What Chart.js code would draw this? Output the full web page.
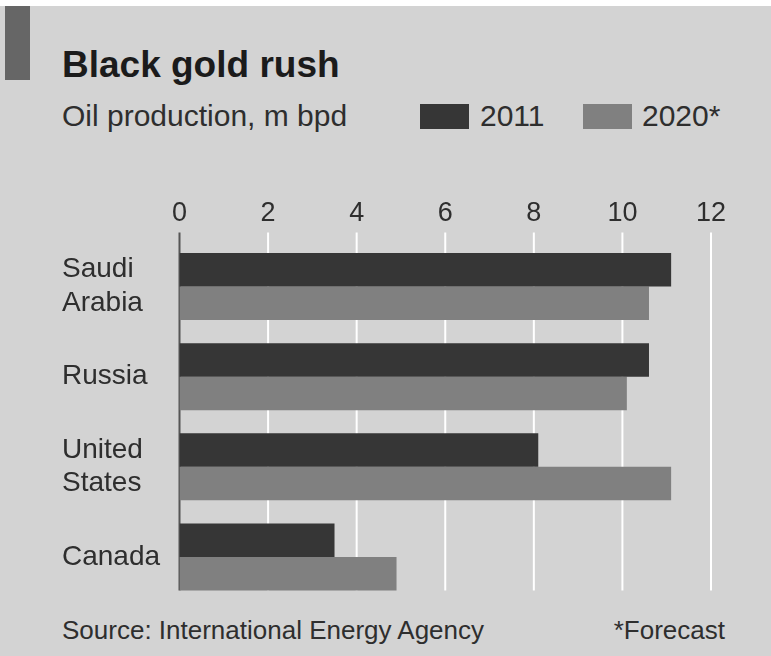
<!DOCTYPE html>
<html>
<head>
<meta charset="utf-8">
<script src="https://cdn.jsdelivr.net/npm/chart.js@4/dist/chart.umd.min.js"></script>
<style>
  body { margin: 0; background: #fff; font-family: "Liberation Sans", Arial, sans-serif; }
  #frame { position: absolute; left: 0; top: 6px; width: 771px; height: 650px; background: #d3d3d3; }
  #accent { position: absolute; left: 5px; top: 6px; width: 25px; height: 74px; background: #666; }
  .txt { position: absolute; white-space: nowrap; line-height: 1; color: #2e2e2e; }
  #title { left: 62px; top: 46px; font-size: 37px; font-weight: bold; color: #1b1b1b; }
  #subtitle { left: 62px; top: 101px; font-size: 30px; }
  #legend span.box { position: absolute; width: 49px; height: 25px; }
  #source { left: 62px; top: 617px; font-size: 26px; }
  #note { right: 46px; top: 617px; font-size: 26px; }
  canvas { position: absolute; left: 0; top: 0; }
</style>
</head>
<body>
<div id="frame"></div>
<div id="accent"></div>
<div class="txt" id="title">Black gold rush</div>
<div class="txt" id="subtitle">Oil production, m bpd</div>
<div id="legend"></div>
<div class="txt" id="source">Source: International Energy Agency</div>
<div class="txt" id="note">*Forecast</div>
<canvas id="chart" width="771" height="656"></canvas>
<script>
// data
const countries = [['Saudi', 'Arabia'], 'Russia', ['United', 'States'], 'Canada'];
const prod2011 = [11.1, 10.6, 8.1, 3.5];
const prod2020 = [10.6, 10.1, 11.1, 4.9];
const seriesNames = ['2011', '2020*'];
const seriesColors = ['#363636', '#808080'];
const xMin = 0, xMax = 12, xStep = 2;

// legend next to the subtitle
const legendSpots = [{ box: 420, text: 480 }, { box: 583, text: 642 }];
const legend = document.getElementById('legend');
seriesNames.forEach((name, i) => {
  const box = document.createElement('span');
  box.className = 'box';
  box.style.left = legendSpots[i].box + 'px';
  box.style.top = '104px';
  box.style.background = seriesColors[i];
  legend.appendChild(box);
  const t = document.createElement('div');
  t.className = 'txt';
  t.style.left = legendSpots[i].text + 'px';
  t.style.top = '101px';
  t.style.fontSize = '30px';
  t.textContent = name;
  legend.appendChild(t);
});

// white gridlines that stop at the last bar, dark line at zero
const gridLines = {
  id: 'gridLines',
  beforeDatasetsDraw(chart) {
    const ctx = chart.ctx;
    const xs = chart.scales.x;
    const meta = chart.getDatasetMeta(chart.data.datasets.length - 1);
    const last = meta.data[meta.data.length - 1].getProps(['y', 'height'], true);
    const bottom = last.y + last.height / 2;
    const top = chart.chartArea.top - 9;
    ctx.save();
    ctx.lineWidth = 2;
    xs.ticks.forEach(t => {
      const px = xs.getPixelForValue(t.value);
      ctx.strokeStyle = t.value === 0 ? '#555' : '#fff';
      ctx.beginPath();
      ctx.moveTo(px, top);
      ctx.lineTo(px, bottom);
      ctx.stroke();
    });
    ctx.restore();
  }
};

new Chart(document.getElementById('chart'), {
  type: 'bar',
  data: {
    labels: countries,
    datasets: [
      { label: seriesNames[0], data: prod2011, backgroundColor: seriesColors[0] },
      { label: seriesNames[1], data: prod2020, backgroundColor: seriesColors[1] }
    ]
  },
  options: {
    indexAxis: 'y',
    responsive: false,
    animation: false,
    layout: { padding: { left: 62, right: 60, top: 197, bottom: 54 } },
    datasets: { bar: { categoryPercentage: 0.744, barPercentage: 1 } },
    plugins: { legend: { display: false }, tooltip: { enabled: false } },
    scales: {
      x: {
        position: 'top',
        min: xMin,
        max: xMax,
        afterFit(s) { s.height = 44.5; },
        ticks: {
          stepSize: xStep,
          padding: 12,
          color: '#2e2e2e',
          font: { family: 'Liberation Sans', size: 27 }
        },
        grid: { display: false, drawTicks: false },
        border: { display: false }
      },
      y: {
        afterFit(s) { s.width = 117.5; },
        ticks: {
          crossAlign: 'far',
          color: '#2e2e2e',
          font: { family: 'Liberation Sans', size: 28, lineHeight: 1.2 }
        },
        grid: { display: false },
        border: { display: false }
      }
    }
  },
  plugins: [gridLines]
});
</script>
</body>
</html>
